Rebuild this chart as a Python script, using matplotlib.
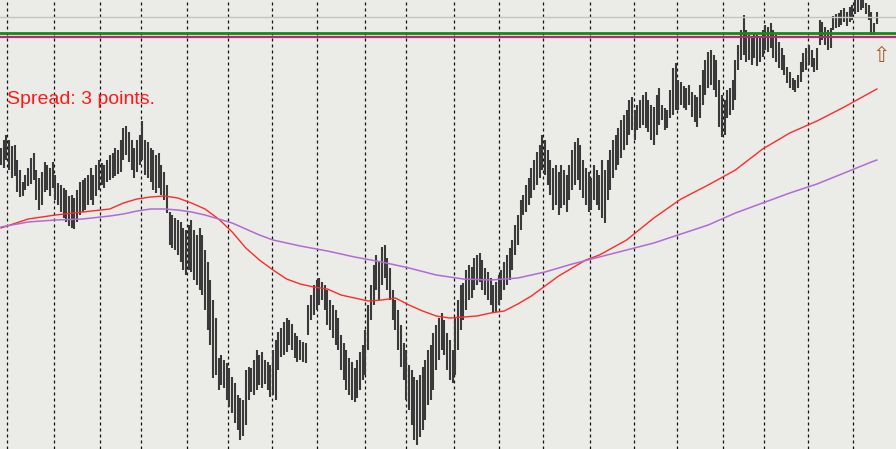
import matplotlib
matplotlib.use("Agg")
import matplotlib.pyplot as plt
import numpy as np

# ---- data (price units, arbitrary scale) ----
high = [302,310,315,310,304,305,290,280,268,275,
        282,292,297,280,272,278,288,285,282,288,
        275,267,265,262,260,254,255,252,260,268,
        270,272,275,282,275,285,290,287,285,290,
        295,297,302,300,310,322,324,318,310,302,
        310,315,329,310,308,302,300,295,297,285,
        278,265,238,235,232,230,228,222,220,225,
        230,220,215,222,215,200,188,170,150,132,
        92,95,90,87,82,73,67,55,52,50,
        80,83,82,90,100,95,98,90,88,85,
        100,110,118,122,128,132,130,126,117,114,
        110,108,107,145,155,165,170,172,168,165,
        160,150,145,140,132,115,107,100,92,88,
        82,90,98,105,120,145,165,185,195,188,
        203,205,192,182,160,150,140,125,107,100,
        85,80,73,70,75,83,90,100,105,117,
        125,132,137,130,117,110,100,133,150,165,
        167,180,185,183,192,195,197,190,182,178,
        172,165,168,175,180,188,195,202,210,225,
        235,250,255,265,272,282,290,298,305,315,
        310,300,290,282,285,278,285,280,275,285,
        300,308,312,305,290,282,278,272,285,280,
        275,290,280,290,300,310,315,322,330,335,
        340,350,353,340,345,350,355,358,350,345,
        343,355,362,345,342,340,360,382,387,370,
        368,364,362,365,358,355,353,365,380,390,
        398,400,395,390,370,355,350,360,362,370,
        390,405,420,435,420,415,413,417,415,412,
        420,425,423,427,420,415,408,402,395,383,
        378,372,370,375,388,397,402,405,400,392,
        402,430,428,423,420,422,434,436,437,440,
        442,438,443,445,452,455,450,452,447,445,
        438,427,438]
low = [285,282,290,280,272,274,258,253,254,260,
       264,266,270,250,240,245,258,260,254,262,
       250,245,238,232,228,224,222,221,228,235,
       238,240,245,250,245,254,260,265,262,268,
       270,272,274,276,278,290,295,288,280,272,
       278,285,290,275,272,268,260,257,262,255,
       250,237,205,202,200,195,188,180,175,180,
       178,170,165,160,155,140,120,105,72,75,
       60,65,62,50,43,37,27,20,10,14,
       25,50,58,55,60,65,62,66,60,53,
       55,50,80,93,95,98,105,100,92,88,
       90,88,87,115,130,135,140,145,150,140,
       125,120,112,105,100,80,70,60,55,50,
       48,52,60,70,75,100,130,145,160,150,
       165,172,160,150,130,120,100,83,70,50,
       40,25,10,5,13,20,30,45,50,60,
       80,90,100,95,80,70,67,75,100,120,
       130,140,150,152,160,165,168,160,155,150,
       145,137,138,145,150,160,165,170,180,195,
       205,220,235,238,245,252,260,265,272,280,
       275,265,255,240,245,235,242,245,238,250,
       260,265,270,260,252,245,238,240,250,245,
       240,232,227,250,260,272,280,285,292,300,
       305,315,320,310,320,322,325,322,318,310,
       305,315,325,330,320,322,332,335,340,340,
       345,342,340,345,333,328,323,332,345,355,
       362,365,360,353,323,313,315,332,335,340,
       350,380,390,395,388,390,385,392,384,388,
       393,400,398,402,392,388,382,380,375,367,
       362,360,358,362,368,378,380,385,383,378,
       380,405,410,405,400,402,420,422,423,425,
       428,424,428,430,436,438,440,442,436,430,
       415,415,426]

ma_bars = [0,10,20,30,40,45,50,55,60,65,70,75,80,85,90,95,100,105,110,115,120,125,
           130,135,140,145,150,155,160,165,170,175,180,185,190,195,200,205,210,215,
           220,230,240,250,260,270,280,290,300,310,320,322]
ma_fast = [222,231,235,238,241,247,251,253,254,252,247,241,231,218,202,190,180,171,166,163,161,155,
           152,149,150,152,145,139,134,132,133,134,137,139,146,154,164,174,182,190,
           195,210,232,251,265,280,301,317,329,343,358,361]
ma_bars_slow = [0,10,20,30,40,45,50,55,60,65,70,75,80,85,90,95,100,110,120,130,140,150,
                160,170,180,190,200,210,220,230,240,250,260,270,280,290,300,310,320,322]
ma_slow = [223,228,230,231,234,236,239,241,241,240,238,235,231,227,221,215,210,204,199,193,
           188,182,175,171,170,172,178,186,193,200,207,216,225,237,247,257,266,277,288,290]

separators = [2.2,19.5,36.4,51.5,68.4,83.5,99.6,116.2,133.8,148.9,166.5,183.1,
              199.3,216.5,232.7,248.5,265.4,280.5,296.7,313.2]

level_grey = 433
level_green = 417
level_magenta = 413
arrow_bar, arrow_price = 323.5, 394
spread_text = "Spread: 3 points."

# ---- figure ----
W, H = 896, 449
fig = plt.figure(figsize=(W/100, H/100), dpi=100)
bg = '#ebebe7'
fig.patch.set_facecolor(bg)
ax = fig.add_axes([0, 0, 1, 1])
ax.set_facecolor(bg)
for s in ax.spines.values():
    s.set_visible(False)
ax.set_xticks([]); ax.set_yticks([])

x = np.arange(len(high))
ax.set_xlim(-0.368, 329.04)
ax.set_ylim(1, 450)

for sx in separators:
    ax.axvline(sx, color='#111111', lw=0.9, linestyle=(0, (2.4, 2.4)), zorder=1)

ax.vlines(x, low, high, color='#3a3a3a', lw=1.5, zorder=2)

ax.plot(ma_bars, ma_fast, color='#ff2a2a', lw=1.0, zorder=3)
ax.plot(ma_bars_slow, ma_slow, color='#b36ad6', lw=1.1, zorder=3)

ax.axhline(level_grey, color='#c4c4c0', lw=1.0, zorder=4)
ax.axhline(level_green, color='#168a16', lw=2.0, zorder=4)
ax.axhline(level_magenta, color='#b8287a', lw=1.6, zorder=4)

ax.text(arrow_bar, arrow_price, '\u21e7', color='#a8582a', fontsize=15,
        ha='center', va='center', family='DejaVu Sans', zorder=5)

fig.text(7/W, 1 - 100/H, spread_text, color='#ff1a1a', fontsize=14,
         family='Liberation Sans', ha='left', va='center')

fig.savefig('out.png', dpi=100, facecolor=bg)
